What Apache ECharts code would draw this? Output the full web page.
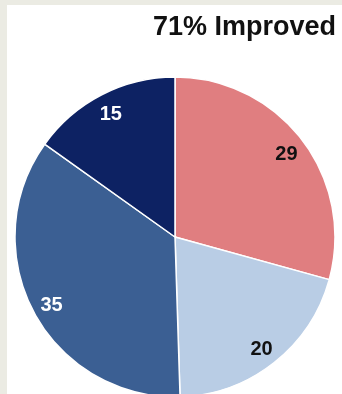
<!DOCTYPE html>
<html>
<head>
<meta charset="utf-8">
<script src="https://cdn.jsdelivr.net/npm/echarts@6/dist/echarts.min.js"></script>
<style>
  html, body { margin: 0; padding: 0; width: 342px; height: 394px; background: #ebebe3; overflow: hidden; }
  #chart { position: absolute; left: 7px; top: 5px; width: 335px; height: 389px; background: #ffffff; }
</style>
</head>
<body>
<div id="chart"></div>
<script>
// Slice values, clockwise from 12 o'clock
const categories = ['A', 'B', 'C', 'D'];
const values = [29, 20, 35, 15];
const sliceColors = ['#e07e80', '#b9cde5', '#3b5f93', '#0d2263'];
const labelColors = ['#111111', '#111111', '#ffffff', '#ffffff'];
const titleText = '71% Improved';

const chart = echarts.init(document.getElementById('chart'));

const pieData = categories.map((c, i) => ({
  name: c,
  value: values[i],
  itemStyle: { color: sliceColors[i] }
}));

const labelData = categories.map((c, i) => ({
  name: c,
  value: values[i],
  label: { color: labelColors[i] }
}));

chart.setOption({
  animation: false,
  title: {
    text: titleText,
    right: 1,
    top: 4,
    textStyle: { fontFamily: 'Liberation Sans, Arial, sans-serif', fontWeight: 'bold', fontSize: 27, color: '#111111' }
  },
  series: [
    {
      type: 'pie',
      center: [168, 232],
      radius: [0, 160],
      startAngle: 90,
      clockwise: true,
      silent: true,
      label: { show: false },
      labelLine: { show: false },
      itemStyle: { borderColor: '#ffffff', borderWidth: 1.5 },
      data: pieData
    },
    {
      // transparent ring that carries the value labels near the rim
      type: 'pie',
      center: [168, 234],
      radius: [114, 160],
      startAngle: 90,
      clockwise: true,
      silent: true,
      itemStyle: { color: 'rgba(0,0,0,0)' },
      label: {
        show: true,
        position: 'inside',
        formatter: '{c}',
        fontFamily: 'Liberation Sans, Arial, sans-serif',
        fontWeight: 'bold',
        fontSize: 20
      },
      labelLine: { show: false },
      data: labelData
    }
  ]
});
</script>
</body>
</html>
